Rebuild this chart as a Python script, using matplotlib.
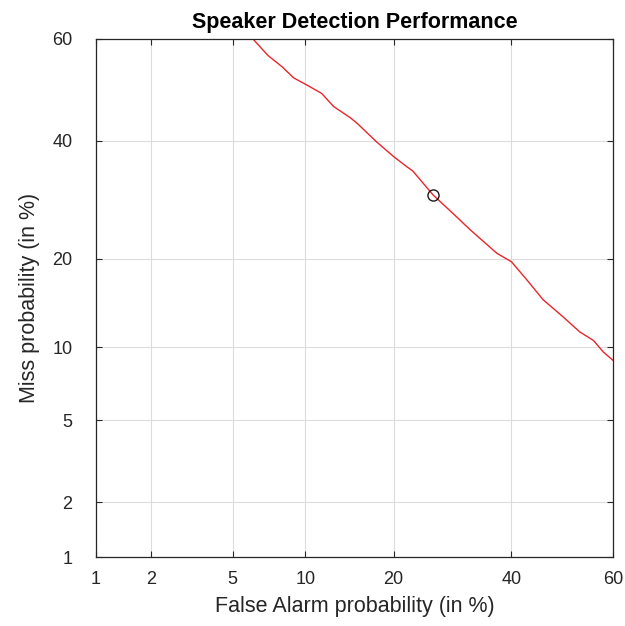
import math
import numpy as np
import matplotlib
matplotlib.use("Agg")
import matplotlib.pyplot as plt

# DET curve: false-alarm vs miss probability (percent)
pfa = [6.2, 7.1, 8.1, 9.0, 10.1, 11.5, 12.7, 14.5, 15.3, 17.7, 20.0, 21.9, 22.8,
       26.0, 29.3, 32.3, 37.2, 40.0, 43.0, 46.2, 50.2, 53.5, 56.2, 58.1, 60.0]
pmiss = [59.8, 56.8, 54.6, 52.4, 51.0, 49.3, 46.7, 44.5, 43.4, 39.8, 37.0, 35.1, 34.3,
         30.0, 26.9, 24.3, 20.8, 19.6, 17.2, 14.8, 12.9, 11.4, 10.6, 9.6, 8.9]

# operating point (min DCF)
op_pfa = [26.0]
op_pmiss = [30.0]

tick_values = [1, 2, 5, 10, 20, 40, 60]
tick_labels = ["1", "2", "5", "10", "20", "40", "60"]


def _ppf(p):
    # inverse normal CDF (Acklam's rational approximation)
    p = np.clip(np.asarray(p, dtype=float), 1e-9, 1 - 1e-9)
    a = [-3.969683028665376e+01, 2.209460984245205e+02, -2.759285104469687e+02,
         1.383577518672690e+02, -3.066479806614716e+01, 2.506628277459239e+00]
    b = [-5.447609879822406e+01, 1.615858368580409e+02, -1.556989798598866e+02,
         6.680131188771972e+01, -1.328068155288572e+01]
    c = [-7.784894002430293e-03, -3.223964580411365e-01, -2.400758277161838e+00,
         -2.549732539343734e+00, 4.374664141464968e+00, 2.938163982698783e+00]
    d = [7.784695709041462e-03, 3.224671290700398e-01, 2.445134137142996e+00,
         3.754408661907416e+00]
    plow = 0.02425
    out = np.empty_like(p)
    lo = p < plow
    hi = p > 1 - plow
    mid = ~(lo | hi)
    q = np.sqrt(-2 * np.log(p[lo]))
    out[lo] = (((((c[0]*q + c[1])*q + c[2])*q + c[3])*q + c[4])*q + c[5]) / \
              ((((d[0]*q + d[1])*q + d[2])*q + d[3])*q + 1)
    q = np.sqrt(-2 * np.log(1 - p[hi]))
    out[hi] = -(((((c[0]*q + c[1])*q + c[2])*q + c[3])*q + c[4])*q + c[5]) / \
               ((((d[0]*q + d[1])*q + d[2])*q + d[3])*q + 1)
    q = p[mid] - 0.5
    r = q * q
    out[mid] = (((((a[0]*r + a[1])*r + a[2])*r + a[3])*r + a[4])*r + a[5]) * q / \
               (((((b[0]*r + b[1])*r + b[2])*r + b[3])*r + b[4])*r + 1)
    return out


_erf = np.vectorize(math.erf)


def fwd(pct):
    return _ppf(np.asarray(pct, dtype=float) / 100.0)


def inv(z):
    z = np.asarray(z, dtype=float)
    return 50.0 * (1.0 + _erf(z / math.sqrt(2.0)))


plt.rcParams["font.family"] = ["Liberation Sans", "DejaVu Sans"]

fig = plt.figure(figsize=(6.25, 6.26), dpi=100)
ax = fig.add_axes([0.1536, 0.1102, 0.8272, 0.8275])

ax.set_xscale("function", functions=(fwd, inv))
ax.set_yscale("function", functions=(fwd, inv))

ax.plot(pfa, pmiss, color="#e8262a", linewidth=1.0)
ax.plot(op_pfa, op_pmiss, linestyle="none", marker="o", markersize=8,
        markerfacecolor="none", markeredgecolor="#1a1a1a", markeredgewidth=1.0)

ax.set_xlim(1, 60)
ax.set_ylim(1, 60)
ax.set_xticks(tick_values)
ax.set_xticklabels(tick_labels)
ax.set_yticks(tick_values)
ax.set_yticklabels(tick_labels)
ax.minorticks_off()

ax.grid(True, color="#dcdcdc", linewidth=0.8)
ax.set_axisbelow(True)
ax.tick_params(direction="in", top=True, right=True, length=4, width=0.8,
               colors="#262626", labelsize=13, labelcolor="#262626")
ax.tick_params(axis="x", pad=10)
ax.tick_params(axis="y", pad=17)
for s in ax.spines.values():
    s.set_color("#262626")
    s.set_linewidth(0.9)

ax.set_title("Speaker Detection Performance", fontsize=15.5, fontweight="bold",
             color="black", pad=8)
ax.set_xlabel("False Alarm probability (in %)", fontsize=15.5, color="#262626", labelpad=6)
ax.set_ylabel("Miss probability (in %)", fontsize=15.5, color="#262626", labelpad=9)

fig.savefig("out.png", dpi=100, facecolor="white")
